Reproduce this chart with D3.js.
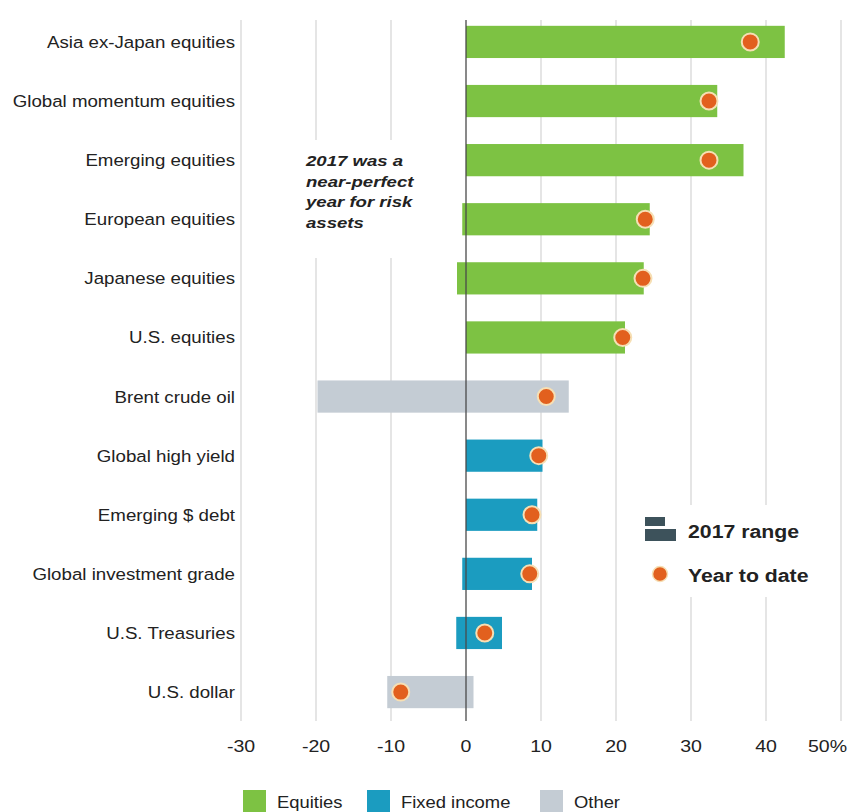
<!DOCTYPE html>
<html><head><meta charset="utf-8">
<script src="https://cdn.jsdelivr.net/npm/d3@7"></script>
<style>body{margin:0;background:#fff;}svg{display:block;font-family:"Liberation Sans",Arial,sans-serif;}</style>
</head><body><svg id="c" width="848" height="812"></svg>
<script>
const categories = ["Asia ex-Japan equities","Global momentum equities","Emerging equities","European equities","Japanese equities","U.S. equities","Brent crude oil","Global high yield","Emerging $ debt","Global investment grade","U.S. Treasuries","U.S. dollar"];
const groups = ["Equities","Equities","Equities","Equities","Equities","Equities","Other","Fixed income","Fixed income","Fixed income","Fixed income","Other"];
const rangeLow = [0,0,0,-0.5,-1.2,0,-19.8,0,0,-0.5,-1.3,-10.5];
const rangeHigh = [42.5,33.5,37,24.5,23.7,21.2,13.7,10.2,9.5,8.8,4.8,1.0];
const ytd = [37.9,32.4,32.4,23.9,23.6,20.9,10.7,9.7,8.8,8.5,2.5,-8.7];
const tickValues = [-30,-20,-10,0,10,20,30,40,50];
const tickLabels = ["-30","-20","-10","0","10","20","30","40","50%"];
const legendGroups = ["Equities","Fixed income","Other"];
const annotation = ["2017 was a","near-perfect","year for risk","assets"];

const colors = {"Equities":"#7dc243","Fixed income":"#1b9cc0","Other":"#c4ccd4"};
const svg = d3.select("#c");
const x = d3.scaleLinear().domain([-30,50]).range([241,841]);
const y = d3.scaleBand().domain(categories).range([14,720]).paddingInner(0.455).paddingOuter(0.2);

// stretched text helper
function stext(parent, tx, ty, str, size, sx, opts={}) {
  const t = parent.append("text")
    .attr("transform",`translate(${tx},${ty}) scale(${sx},1)`)
    .attr("font-size",size).attr("fill","#222")
    .attr("text-anchor",opts.anchor||"start")
    .attr("font-weight",opts.weight||"normal")
    .attr("font-style",opts.style||"normal")
    .text(str);
  return t;
}

// gridlines
svg.append("g").selectAll("line").data(tickValues.filter(d=>d!==0)).join("line")
  .attr("x1",d=>x(d)).attr("x2",d=>x(d)).attr("y1",20).attr("y2",721)
  .attr("stroke","#dcdcdc").attr("stroke-width",1.5);

// annotation background + text
svg.append("rect").attr("x",292).attr("y",140).attr("width",150).attr("height",118).attr("fill","#fff");
annotation.forEach((t,i)=>stext(svg,306,166+i*20.5,t,15.5,1.2,{weight:"bold",style:"italic"}));

// bars
svg.append("g").selectAll("rect").data(categories).join("rect")
  .attr("x",(d,i)=>x(rangeLow[i])).attr("width",(d,i)=>x(rangeHigh[i])-x(rangeLow[i]))
  .attr("y",d=>y(d)).attr("height",y.bandwidth())
  .attr("fill",(d,i)=>colors[groups[i]]);

// zero line
svg.append("line").attr("x1",x(0)).attr("x2",x(0)).attr("y1",20).attr("y2",721).attr("stroke","#4a4a4a").attr("stroke-width",1.3);

// dots
svg.append("g").selectAll("circle").data(categories).join("circle")
  .attr("cx",(d,i)=>x(ytd[i])).attr("cy",d=>y(d)+y.bandwidth()/2).attr("r",8.5)
  .attr("fill","#e2601e").attr("stroke","#f6dfb4").attr("stroke-width",2);

// category labels
const lab = svg.append("g");
categories.forEach(d=>stext(lab,235,y(d)+y.bandwidth()/2+6,d,17,1.1,{anchor:"end"}));

// x axis labels
const ax = svg.append("g");
tickValues.forEach((v,i)=>{
  if (i===tickValues.length-1) stext(ax,847,752,tickLabels[i],17,1.15,{anchor:"end"});
  else stext(ax,x(v),752,tickLabels[i],17,1.15,{anchor:"middle"});
});

// legend box (range / ytd)
svg.append("rect").attr("x",625).attr("y",505).attr("width",215).attr("height",92).attr("fill","#fff");
svg.append("rect").attr("x",645).attr("y",517).attr("width",20).attr("height",9).attr("fill","#3d525b");
svg.append("rect").attr("x",645).attr("y",529).attr("width",31).attr("height",12).attr("fill","#3d525b");
stext(svg,688,538,"2017 range",18.5,1.15,{weight:"bold"});
svg.append("circle").attr("cx",660).attr("cy",574).attr("r",7.5).attr("fill","#e2601e").attr("stroke","#f6dfb4").attr("stroke-width",1.5);
stext(svg,688,582,"Year to date",18.5,1.15,{weight:"bold"});

// bottom legend
const lx = [243,367,540];
const lg = svg.append("g").selectAll("g").data(legendGroups).join("g").attr("transform",(d,i)=>`translate(${lx[i]},790)`);
lg.append("rect").attr("width",23).attr("height",23).attr("fill",d=>colors[d]);
lg.each(function(d){ stext(d3.select(this),34,18,d,16,1.15); });
</script></body></html>
